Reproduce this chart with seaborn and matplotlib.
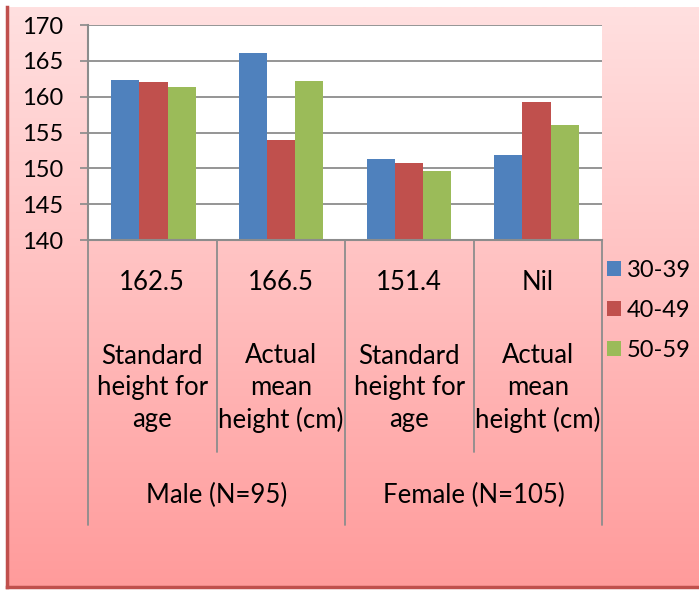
import numpy as np
import pandas as pd
import matplotlib
matplotlib.use("Agg")
import matplotlib.pyplot as plt
import seaborn as sns
from matplotlib.colors import LinearSegmentedColormap

groups = ["Male (N=95)", "Female (N=105)"]
measures = ["Standard\nheight for\nage", "Actual\nmean\nheight (cm)",
            "Standard\nheight for\nage", "Actual\nmean\nheight (cm)"]
reference = ["162.5", "166.5", "151.4", "Nil"]
age_bands = ["30-39", "40-49", "50-59"]
h_30_39 = [162.3, 166.1, 151.3, 151.9]
h_40_49 = [162.1, 153.9, 150.7, 159.2]
h_50_59 = [161.3, 162.2, 149.6, 156.0]
palette = ["#4F81BD", "#C0504D", "#9BBB59"]

sns.set_theme(style="white")
plt.rcParams["font.family"] = ["Lato", "DejaVu Sans"]
plt.rcParams["text.color"] = "black"
plt.rcParams["ytick.color"] = "black"

rows = []
for i in range(4):
    for band, vals in zip(age_bands, [h_30_39, h_40_49, h_50_59]):
        rows.append({"cat": i, "Age": band, "Height": vals[i]})
df = pd.DataFrame(rows)

fig = plt.figure(figsize=(6.99, 5.90), dpi=100)
fig.patch.set_facecolor("white")

# pink gradient chart area background
bg = fig.add_axes([7 / 699, 3 / 590, 1 - 7 / 699, 580 / 590], zorder=-5)
cmap = LinearSegmentedColormap.from_list("pink", ["#FFE0E0", "#FFBEBE", "#FF9B9B"])
bg.imshow(np.linspace(0, 1, 256).reshape(-1, 1), aspect="auto", cmap=cmap,
          extent=[0, 1, 0, 1])
bg.set_xlim(0, 1)
bg.set_ylim(0, 1)
bg.set_xticks([])
bg.set_yticks([])
for s in ["top", "right"]:
    bg.spines[s].set_visible(False)
for s in ["left", "bottom"]:
    bg.spines[s].set_color("#C0504D")
    bg.spines[s].set_linewidth(2.5)

ax = fig.add_axes([88 / 699, 1 - 240 / 590, 514 / 699, 215 / 590])
ax.set_facecolor("white")
sns.barplot(data=df, x="cat", y="Height", hue="Age", palette=palette,
            width=0.66, saturation=1, ax=ax, edgecolor="none")

ax.set_ylim(140, 170)
ax.set_yticks(range(140, 171, 5))
ax.yaxis.grid(True, color="#8C8C8C", linewidth=1.3)
ax.set_axisbelow(True)
ax.tick_params(axis="y", labelsize=17, length=6, color="#8C8C8C", left=True, pad=12)
ax.tick_params(axis="x", bottom=False, labelbottom=False)
ax.set_xlabel("")
ax.set_ylabel("")
for s in ["top", "right"]:
    ax.spines[s].set_visible(False)
for s in ["left", "bottom"]:
    ax.spines[s].set_color("#8C8C8C")
    ax.spines[s].set_linewidth(1.5)

# category table below the axis
tr = ax.transAxes
px = 1 / 215
line_kw = dict(color="#8C8C8C", lw=1.3, clip_on=False, transform=tr)
for k in range(5):
    x = k / 4
    bottom = -285 * px if k % 2 == 0 else -212 * px
    ax.plot([x, x], [0, bottom], **line_kw)
for i in range(4):
    xc = (i + 0.5) / 4
    ax.text(xc, -43 * px, reference[i], transform=tr, ha="center", va="center",
            fontsize=18.5)
    ax.text(xc, -148 * px, measures[i], transform=tr, ha="center", va="center",
            fontsize=18.5, linespacing=1.32)
for j, g in enumerate(groups):
    ax.text((j + 0.5) / 2, -255 * px, g, transform=tr, ha="center", va="center",
            fontsize=18.5)

leg = ax.legend(loc="upper left", bbox_to_anchor=(607 / 514 - 88 / 514, -20 * px),
                frameon=False, fontsize=17, handlelength=0.6, handleheight=0.6,
                handletextpad=0.25, labelspacing=0.8, borderpad=0,
                borderaxespad=0)

fig.savefig("out.png", dpi=100)
